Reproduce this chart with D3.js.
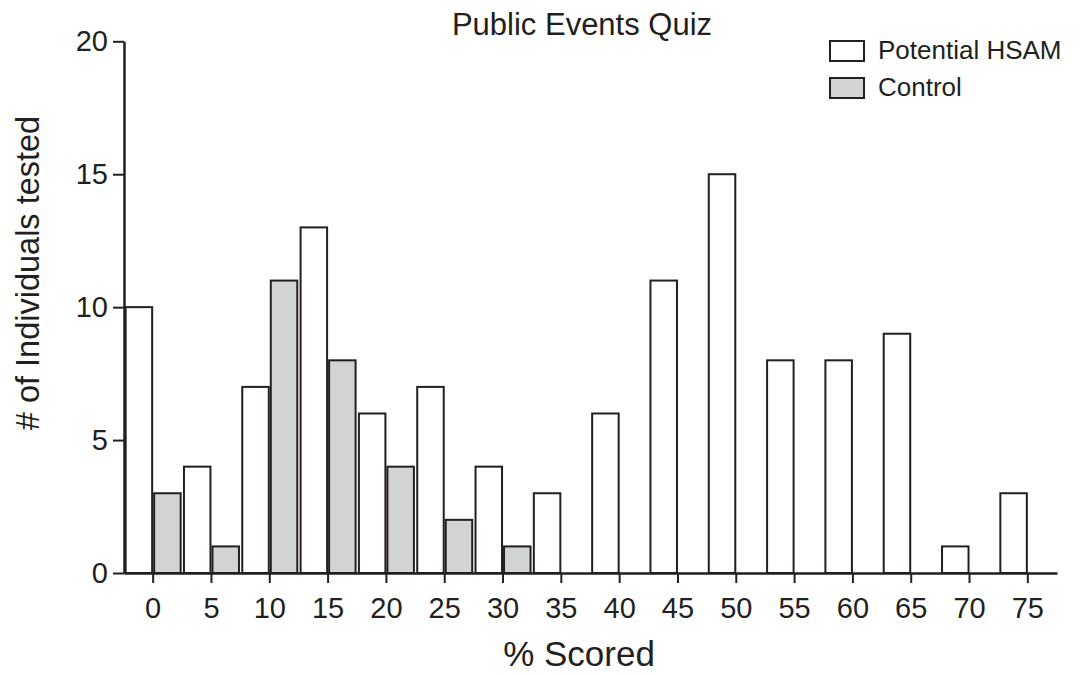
<!DOCTYPE html>
<html>
<head>
<meta charset="utf-8">
<script src="https://cdn.jsdelivr.net/npm/d3@7"></script>
<style>
  body { margin: 0; background: #fff; }
  text { font-family: "Liberation Sans", Arial, sans-serif; fill: #231f20; }
</style>
</head>
<body>
<svg id="chart" width="1081" height="675"></svg>
<script>
var categories = ["0", "5", "10", "15", "20", "25", "30", "35", "40", "45", "50", "55", "60", "65", "70", "75"];
var hsamValues = [10, 4, 7, 13, 6, 7, 4, 3, 6, 11, 15, 8, 8, 9, 1, 3];
var controlValues = [3, 1, 11, 8, 4, 2, 1, 0, 0, 0, 0, 0, 0, 0, 0, 0];
var yTicks = [0, 5, 10, 15, 20];

var svg = d3.select("#chart");
var ink = "#231f20";
var font = "'Liberation Sans', Arial, sans-serif";

var x = d3.scaleBand().domain(categories).range([124, 1057]).padding(0);
var y = d3.scaleLinear().domain([0, 20]).range([573, 41.3]);

var barW = 26.5;
var gap = 1;

// bars: HSAM left of the tick, control right of it
var g = svg.append("g");
categories.forEach(function (c, i) {
    var cx = x(c) + x.bandwidth() / 2;
    g.append("rect")
        .attr("x", cx - gap - barW)
        .attr("y", y(hsamValues[i]))
        .attr("width", barW)
        .attr("height", y(0) - y(hsamValues[i]))
        .attr("fill", "#fff")
        .attr("stroke", ink)
        .attr("stroke-width", 2);
    if (controlValues[i] > 0) {
        g.append("rect")
            .attr("x", cx + gap)
            .attr("y", y(controlValues[i]))
            .attr("width", barW)
            .attr("height", y(0) - y(controlValues[i]))
            .attr("fill", "#d1d3d4")
            .attr("stroke", ink)
            .attr("stroke-width", 2);
    }
});

// axes
var xAxis = svg.append("g")
    .attr("transform", "translate(0," + y(0) + ")")
    .call(d3.axisBottom(x).tickSize(10).tickSizeOuter(0).tickPadding(14));
xAxis.select(".domain").attr("stroke", ink).attr("stroke-width", 2.5);
xAxis.selectAll(".tick line").attr("stroke", ink).attr("stroke-width", 2);
xAxis.selectAll(".tick text")
    .style("font-family", font)
    .style("font-size", "29px").attr("fill", ink);

var yAxis = svg.append("g")
    .attr("transform", "translate(124,0)")
    .call(d3.axisLeft(y).tickValues(yTicks).tickSize(11).tickSizeOuter(0).tickPadding(5));
yAxis.select(".domain").attr("stroke", ink).attr("stroke-width", 2.5);
yAxis.selectAll(".tick line").attr("stroke", ink).attr("stroke-width", 2);
yAxis.selectAll(".tick text")
    .style("font-family", font)
    .style("font-size", "29px").attr("fill", ink);

// titles
svg.append("text")
    .attr("x", 582).attr("y", 35)
    .attr("text-anchor", "middle")
    .style("font-size", "31px")
    .text("Public Events Quiz");

svg.append("text")
    .attr("x", 579).attr("y", 666)
    .attr("text-anchor", "middle")
    .style("font-size", "35px")
    .text("% Scored");

svg.append("text")
    .attr("transform", "translate(39,273) rotate(-90)")
    .attr("text-anchor", "middle")
    .style("font-size", "32.5px")
    .text("# of Individuals tested");

// legend
var legend = [
    { label: "Potential HSAM", fill: "#fff", y: 41 },
    { label: "Control", fill: "#d1d3d4", y: 78 }
];
legend.forEach(function (d) {
    svg.append("rect")
        .attr("x", 830).attr("y", d.y)
        .attr("width", 34).attr("height", 20)
        .attr("fill", d.fill)
        .attr("stroke", ink).attr("stroke-width", 2);
    svg.append("text")
        .attr("x", 878).attr("y", d.y + 18)
        .style("font-size", "26px")
        .text(d.label);
});
</script>
</body>
</html>
